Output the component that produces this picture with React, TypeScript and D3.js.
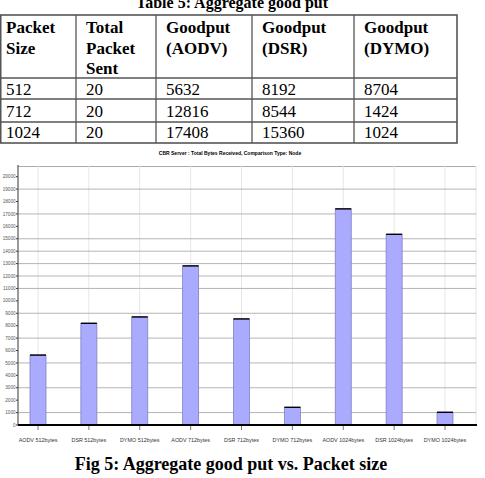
import React from "react";
import * as d3 from "d3";

// table
const tableTitle = "Table 5: Aggregate good put";
const headers = [["Packet", "Size"], ["Total", "Packet", "Sent"], ["Goodput", "(AODV)"], ["Goodput", "(DSR)"], ["Goodput", "(DYMO)"]];
const packetSizes = ["512", "712", "1024"];
const totalSent = ["20", "20", "20"];
const aodv = [5632, 12816, 17408];
const dsr = [8192, 8544, 15360];
const dymo = [8704, 1424, 1024];

// chart
const chartTitle = "CBR Server : Total Bytes Received, Comparison Type: Node";
const categories = [
  "AODV 512bytes", "DSR 512bytes", "DYMO 512bytes",
  "AODV 712bytes", "DSR 712bytes", "DYMO 712bytes",
  "AODV 1024bytes", "DSR 1024bytes", "DYMO 1024bytes",
];
const values = [5632, 8192, 8704, 12816, 8544, 1424, 17408, 15360, 1024];
const yTicks = d3.range(0, 20001, 1000);
const gridTicks = [1000, 3000, 5000, 7000, 9000, 11000, 12000, 13000, 14000, 15000, 17000, 19000];
const caption = "Fig 5: Aggregate good put vs. Packet size";

const W = 485;
const H = 478;

export default function App() {
  const colX = [0, 76, 156, 252, 354, 457];
  const rowY = [15, 78, 99, 122, 143];
  const serif = "'Liberation Serif', 'Times New Roman', serif";
  const sans = "'Liberation Sans Narrow', 'Liberation Sans', Arial, sans-serif";

  const rows = packetSizes.map((p, i) => [p, totalSent[i], String(aodv[i]), String(dsr[i]), String(dymo[i])]);

  const x = d3.scalePoint<string>().domain(categories).range([38, 445]);
  const y = d3.scaleLinear().domain([0, 20000]).range([425, 176.7]);
  const left = 18, right = 476, top = 166, bottom = 425;
  const barW = 16;

  return (
    <svg width={W} height={H} style={{ position: "absolute", left: 0, top: 0, background: "#fff" }}>
      {/* table */}
      <text x={232} y={8} textAnchor="middle" fontFamily={serif} fontWeight="bold" fontSize={16}>{tableTitle}</text>
      <g stroke="#555" strokeWidth={1.3} fill="none">
        <rect x={colX[0] + 0.7} y={rowY[0]} width={colX[5] - colX[0] - 0.7} height={rowY[4] - rowY[0]} strokeWidth={1.6} />
        {colX.slice(1, 5).map((cx) => <line key={cx} x1={cx} x2={cx} y1={rowY[0]} y2={rowY[4]} />)}
        {rowY.slice(1, 4).map((ry) => <line key={ry} x1={colX[0]} x2={colX[5]} y1={ry} y2={ry} />)}
      </g>
      {headers.map((h, ci) => (
        <g key={ci}>
          {h.map((t, li) => (
            <text key={li} x={colX[ci] + (ci === 0 ? 6 : 10)} y={33 + li * 20.5} fontFamily={serif} fontWeight="bold" fontSize={17}>{t}</text>
          ))}
        </g>
      ))}
      {rows.map((r, ri) => (
        <g key={ri}>
          {r.map((t, ci) => (
            <text key={ci} x={colX[ci] + (ci === 0 ? 6 : 10)} y={95 + ri * 21.6} fontFamily={serif} fontSize={17}>{t}</text>
          ))}
        </g>
      ))}

      {/* chart */}
      <text x={230} y={155} textAnchor="middle" fontFamily={sans} fontWeight="bold" fontSize={5}>{chartTitle}</text>
      <line x1={left} x2={right} y1={top + 0.5} y2={top + 0.5} stroke="#aaa" />
      <line x1={right} x2={right} y1={top} y2={bottom} stroke="#e4e4e4" />
      {categories.map((c) => (
        <line key={c} x1={x(c)} x2={x(c)} y1={top} y2={bottom} stroke="#e6e6e6" strokeWidth={1} />
      ))}
      {gridTicks.map((t) => (
        <line key={t} x1={left} x2={right} y1={y(t)} y2={y(t)} stroke="#b4b4b4" strokeWidth={1} />
      ))}
      {categories.map((c, i) => (
        <g key={c}>
          <rect x={x(c)! - barW / 2} y={y(values[i])} width={barW} height={bottom - y(values[i])} fill="#aaaaff" stroke="#8080c0" strokeWidth={0.8} />
          <line x1={x(c)! - barW / 2} x2={x(c)! + barW / 2} y1={y(values[i])} y2={y(values[i])} stroke="#000" strokeWidth={1.4} />
          <line x1={x(c)} x2={x(c)} y1={bottom} y2={bottom + 5} stroke="#555" strokeWidth={0.8} />
          <text x={x(c)} y={442} textAnchor="middle" fontFamily={sans} fontSize={5.4} fill="#333">{c}</text>
        </g>
      ))}
      {yTicks.map((t) => (
        <g key={t}>
          <line x1={left - 2} x2={left} y1={y(t)} y2={y(t)} stroke="#333" strokeWidth={1} />
          <text x={left - 2.5} y={y(t) + 1.6} textAnchor="end" fontFamily={sans} fontSize={4.6} fill="#555">{t}</text>
        </g>
      ))}
      <line x1={left} x2={left} y1={top - 1} y2={bottom} stroke="#555" strokeWidth={1.2} />
      <line x1={left} x2={right + 1} y1={bottom} y2={bottom} stroke="#000" strokeWidth={2} />

      <text x={231} y={470} textAnchor="middle" fontFamily={serif} fontWeight="bold" fontSize={18}>{caption}</text>
    </svg>
  );
}
